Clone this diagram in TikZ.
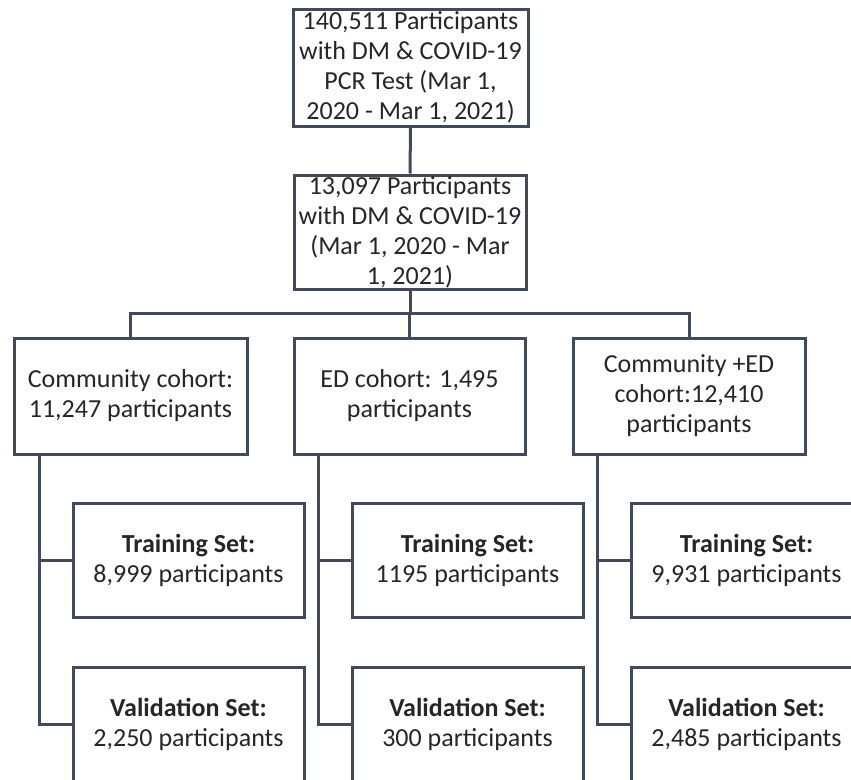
\documentclass[tikz,border=0pt]{standalone}
\usepackage{fontspec}
\setmainfont{Carlito}
\definecolor{edge}{HTML}{414A5A}
\definecolor{txt}{HTML}{262626}
\tikzset{
  box/.style={draw=edge, line width=3pt, fill=white, rectangle, align=center,
    inner sep=0pt, text=txt, font=\fontsize{26}{30}\selectfont},
  link/.style={draw=edge, line width=3pt},
}
\begin{document}
\begin{tikzpicture}[x=1pt, y=-1pt]
\useasboundingbox (0,0) rectangle (851,779);
\clip (0,0) rectangle (851,779);
\fill[white] (0,0) rectangle (851,779);
% top boxes
\node[box, minimum width=235pt, minimum height=117pt] (top) at (410.5,67.5)
  {140,511 Participants\\with DM \& COVID-19\\PCR Test (Mar 1,\\2020 - Mar 1, 2021)};
\node[box, minimum width=232pt, minimum height=114pt] (mid) at (410,232)
  {13,097 Participants\\with DM \& COVID-19\\(Mar 1, 2020 - Mar\\1, 2021)};
% cohorts
\node[box, minimum width=233pt, minimum height=116pt] (c1) at (130.5,396)
  {Community cohort:\\11,247 participants};
\node[box, minimum width=231pt, minimum height=116pt] (c2) at (409.5,396)
  {ED cohort: 1,495\\participants};
\node[box, minimum width=232pt, minimum height=116pt] (c3) at (689,396)
  {Community +ED\\cohort:12,410\\participants};
% training
\node[box, minimum width=231pt, minimum height=114pt] (t1) at (188.5,560)
  {\textbf{Training Set:}\\8,999 participants};
\node[box, minimum width=231pt, minimum height=114pt] (t2) at (467.5,560)
  {\textbf{Training Set:}\\1195 participants};
\node[box, minimum width=231pt, minimum height=114pt] (t3) at (746.5,560)
  {\textbf{Training Set:}\\9,931 participants};
% validation
\node[box, minimum width=231pt, minimum height=114pt] (v1) at (188.5,724)
  {\textbf{Validation Set:}\\2,250 participants};
\node[box, minimum width=231pt, minimum height=114pt] (v2) at (467.5,724)
  {\textbf{Validation Set:}\\300 participants};
\node[box, minimum width=231pt, minimum height=114pt] (v3) at (746.5,724)
  {\textbf{Validation Set:}\\2,485 participants};
% connectors
\coordinate (hy) at (0,313);
\draw[link] (top.south) -- (mid.north);
\draw[link] (mid.south) -- (mid.south |- hy);
\draw[link] (c1.north) -- (c1.north |- hy) -- (c3.north |- hy) -- (c3.north);
\draw[link] (c2.north) -- (c2.north |- hy);
\foreach \c/\t/\v/\x in {c1/t1/v1/39, c2/t2/v2/318, c3/t3/v3/597}{
  \draw[link] (\x,0 |- \c.south) -- (\x,0 |- \v.west) -- (\v.west);
  \draw[link] (\x,0 |- \t.west) -- (\t.west);
}
\end{tikzpicture}
\end{document}
